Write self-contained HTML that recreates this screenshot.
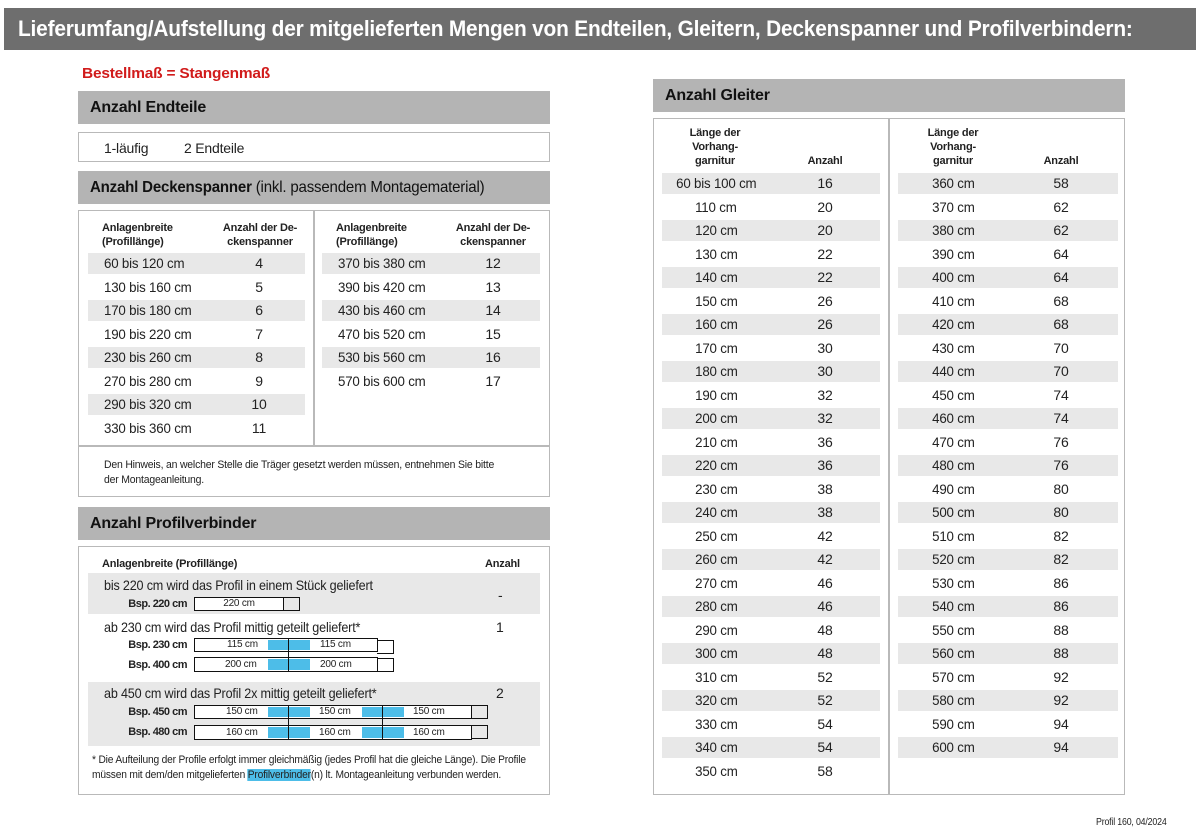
<!DOCTYPE html>
<html><head><meta charset="utf-8"><style>
*{margin:0;padding:0;box-sizing:border-box}
body{width:1200px;height:833px;background:#fff;position:relative;overflow:hidden;font-family:"Liberation Sans Narrow","Liberation Sans",sans-serif;color:#222;letter-spacing:-0.2px}
.a{position:absolute;white-space:nowrap}
.bar{position:absolute;background:#b4b4b4;font-weight:bold;font-size:16px;color:#111;padding-left:12px;line-height:33px}
.box{position:absolute;border:1.5px solid #b9b9b9}
.r{position:absolute;height:21px;font-size:14px;line-height:21px}
.g{background:#e8e8e8}
.h{font-size:11px;font-weight:bold;line-height:14px;position:absolute;text-align:center}
.c{position:absolute;text-align:center}
.pb{position:absolute;border:1.5px solid #111;background:#fff;font-size:10px;text-align:center;line-height:11px}
.bl{position:absolute;background:#4dbde8}
.vl{position:absolute;width:1px;background:#111}
.bk{position:absolute;border:1.5px solid #111;border-left:none}
.sx{display:inline-block;transform:scaleX(0.88);transform-origin:left center}
.bsp{position:absolute;width:100px;left:90px;text-align:right;font-size:11px;font-weight:bold;letter-spacing:-0.5px;padding-right:3px}
.t{font-size:10px;position:absolute}
</style></head><body>
<div class="a" style="left:4px;top:8px;width:1192px;height:42px;background:#6e6e6e;color:#fff;font-weight:bold;font-size:22px;line-height:42px;padding-left:14px"><span class="sx" style="transform:scaleX(0.948)">Lieferumfang/Aufstellung der mitgelieferten Mengen von Endteilen, Gleitern, Deckenspanner und Profilverbindern:</span></div>
<div class="a" style="left:82px;top:65px;color:#d11b1b;font-weight:bold;font-size:15px"><span class="sx" style="transform:scaleX(1.03)">Bestellmaß = Stangenmaß</span></div>

<div class="bar" style="left:78px;top:91px;width:472px;height:33px">Anzahl Endteile</div>
<div class="box" style="left:78px;top:132px;width:472px;height:30px"></div>
<div class="a" style="left:104px;top:140px;font-size:14px">1-läufig</div>
<div class="a" style="left:184px;top:140px;font-size:14px">2 Endteile</div>

<div class="bar" style="left:78px;top:171px;width:472px;height:33px"><span class="sx" style="transform:scaleX(0.94)">Anzahl Deckenspanner <span style="font-weight:normal">(inkl. passendem Montagematerial)</span></span></div>
<div class="box" style="left:78px;top:210px;width:472px;height:287px"></div>
<div class="a" style="left:313px;top:210px;width:1.5px;height:235px;background:#b9b9b9"></div>
<div class="a" style="left:78px;top:445px;width:472px;height:1.5px;background:#b9b9b9"></div>
<div class="h" style="left:102px;top:221px;text-align:left">Anlagenbreite<br>(Profillänge)</div>
<div class="h" style="left:220px;top:221px;width:80px">Anzahl der De-<br>ckenspanner</div>
<div class="h" style="left:336px;top:221px;text-align:left">Anlagenbreite<br>(Profillänge)</div>
<div class="h" style="left:453px;top:221px;width:80px">Anzahl der De-<br>ckenspanner</div>
<div id="ds"></div>
<div class="a" style="left:104px;top:458px;font-size:11px;line-height:15px"><span class="sx" style="transform:scaleX(0.95)">Den Hinweis, an welcher Stelle die Träger gesetzt werden müssen, entnehmen Sie bitte<br>der Montageanleitung.</span></div>

<div class="bar" style="left:78px;top:507px;width:472px;height:33px">Anzahl Profilverbinder</div>
<div class="box" style="left:78px;top:546px;width:472px;height:249px"></div>
<div class="h" style="left:102px;top:557px;text-align:left">Anlagenbreite (Profillänge)</div>
<div class="h" style="left:485px;top:557px;text-align:left">Anzahl</div>
<div class="a g" style="left:88px;top:573px;width:452px;height:41px"></div>
<div class="a g" style="left:88px;top:682px;width:452px;height:64px"></div>
<div class="a" style="left:104px;top:577px;font-size:14px"><span class="sx" style="transform:scaleX(0.9)">bis 220 cm wird das Profil in einem Stück geliefert</span></div>
<div class="a" style="left:104px;top:619px;font-size:14px"><span class="sx" style="transform:scaleX(0.9)">ab 230 cm wird das Profil mittig geteilt geliefert*</span></div>
<div class="a" style="left:104px;top:685px;font-size:14px"><span class="sx" style="transform:scaleX(0.9)">ab 450 cm wird das Profil 2x mittig geteilt geliefert*</span></div>
<div class="a" style="left:498px;top:587px;font-size:14px">-</div>
<div class="a" style="left:496px;top:619px;font-size:14px">1</div>
<div class="a" style="left:496px;top:685px;font-size:14px">2</div>
<div class="bsp" style="top:598px">Bsp. 220 cm</div>
<div class="bsp" style="top:639px">Bsp. 230 cm</div>
<div class="bsp" style="top:659px">Bsp. 400 cm</div>
<div class="bsp" style="top:706px">Bsp. 450 cm</div>
<div class="bsp" style="top:726px">Bsp. 480 cm</div>
<div class="pb" style="left:194px;top:597px;width:90px;height:14px">220 cm</div>
<div class="bk" style="left:283px;top:597px;width:17px;height:14px"></div>
<div class="pb" style="left:194px;top:638px;width:184px;height:14px"></div>
<div class="pb" style="left:194px;top:657px;width:184px;height:15px"></div>
<div class="bl" style="left:268px;top:640px;width:42px;height:10px"></div>
<div class="bl" style="left:268px;top:659px;width:42px;height:11px"></div>
<div class="vl" style="left:288px;top:638px;height:34px"></div>
<div class="t" style="left:227px;top:639px">115 cm</div><div class="t" style="left:320px;top:639px">115 cm</div>
<div class="t" style="left:225px;top:659px">200 cm</div><div class="t" style="left:320px;top:659px">200 cm</div>
<div class="bk" style="left:377px;top:640px;width:17px;height:14px"></div>
<div class="bk" style="left:377px;top:658px;width:17px;height:14px"></div>
<div class="pb" style="left:194px;top:705px;width:278px;height:14px"></div>
<div class="pb" style="left:194px;top:725px;width:278px;height:15px"></div>
<div class="bl" style="left:268px;top:707px;width:42px;height:10px"></div>
<div class="bl" style="left:362px;top:707px;width:42px;height:10px"></div>
<div class="bl" style="left:268px;top:727px;width:42px;height:11px"></div>
<div class="bl" style="left:362px;top:727px;width:42px;height:11px"></div>
<div class="vl" style="left:288px;top:705px;height:35px"></div>
<div class="vl" style="left:382px;top:705px;height:35px"></div>
<div class="t" style="left:226px;top:706px">150 cm</div><div class="t" style="left:319px;top:706px">150 cm</div><div class="t" style="left:413px;top:706px">150 cm</div>
<div class="t" style="left:226px;top:727px">160 cm</div><div class="t" style="left:319px;top:727px">160 cm</div><div class="t" style="left:413px;top:727px">160 cm</div>
<div class="bk" style="left:471px;top:705px;width:17px;height:14px"></div>
<div class="bk" style="left:471px;top:725px;width:17px;height:14px"></div>
<div class="a" style="left:92px;top:753px;font-size:11px;line-height:15px"><span class="sx" style="transform:scaleX(0.93)">* Die Aufteilung der Profile erfolgt immer gleichmäßig (jedes Profil hat die gleiche Länge). Die Profile<br>müssen mit dem/den mitgelieferten <span style="background:#4dbde8">Profilverbinder</span>(n) lt. Montageanleitung verbunden werden.</span></div>

<div class="bar" style="left:653px;top:79px;width:472px;height:33px">Anzahl Gleiter</div>
<div class="box" style="left:653px;top:118px;width:472px;height:677px"></div>
<div class="a" style="left:888px;top:118px;width:1.5px;height:677px;background:#b9b9b9"></div>
<div class="h" style="left:680px;top:126px;width:70px">Länge der<br>Vorhang-<br>garnitur</div>
<div class="h" style="left:800px;top:154px;width:50px">Anzahl</div>
<div class="h" style="left:918px;top:126px;width:70px">Länge der<br>Vorhang-<br>garnitur</div>
<div class="h" style="left:1036px;top:154px;width:50px">Anzahl</div>
<div id="gl"></div>
<div class="a" style="left:1096px;top:817px;font-size:10px"><span class="sx">Profil 160, 04/2024</span></div>
<script>
function rows(el,data,x,w,lc,vc,top,step,alignLeft){
 let h='';data.forEach((d,i)=>{let y=top+i*step;
 h+=`<div class="r${i%2==0?' g':''}" style="left:${x}px;top:${y}px;width:${w}px"></div>`;
 if(alignLeft) h+=`<div class="a" style="left:${lc}px;top:${y+2}px;font-size:14px"><span class="sx" style="transform:scaleX(0.95)">${d[0]}</span></div>`;
 else h+=`<div class="c" style="left:${lc-60}px;top:${y+2}px;width:120px;font-size:14px"><span style="display:inline-block;transform:scaleX(0.95)">${d[0]}</span></div>`;
 h+=`<div class="c" style="left:${vc-30}px;top:${y+2}px;width:60px;font-size:14px">${d[1]}</div>`;});
 el.innerHTML+=h;}
const ds=document.getElementById('ds');
rows(ds,[["60 bis 120 cm",4],["130 bis 160 cm",5],["170 bis 180 cm",6],["190 bis 220 cm",7],["230 bis 260 cm",8],["270 bis 280 cm",9],["290 bis 320 cm",10],["330 bis 360 cm",11]],88,217,104,259,253,23.5,true);
rows(ds,[["370 bis 380 cm",12],["390 bis 420 cm",13],["430 bis 460 cm",14],["470 bis 520 cm",15],["530 bis 560 cm",16],["570 bis 600 cm",17]],322,218,338,493,253,23.5,true);
const L=[["60 bis 100 cm",16]];const lv=[20,20,22,22,26,26,30,30,32,32,36,36,38,38,42,42,46,46,48,48,52,52,54,54,58];
lv.forEach((v,i)=>L.push([(110+i*10)+" cm",v]));
const R=[];const rv=[58,62,62,64,64,68,68,70,70,74,74,76,76,80,80,82,82,86,86,88,88,92,92,94,94];
rv.forEach((v,i)=>R.push([(360+i*10)+" cm",v]));
const gl=document.getElementById('gl');
rows(gl,L,662,218,716,825,173,23.52,false);
rows(gl,R,898,220,953,1061,173,23.52,false);
</script>
</body></html>
